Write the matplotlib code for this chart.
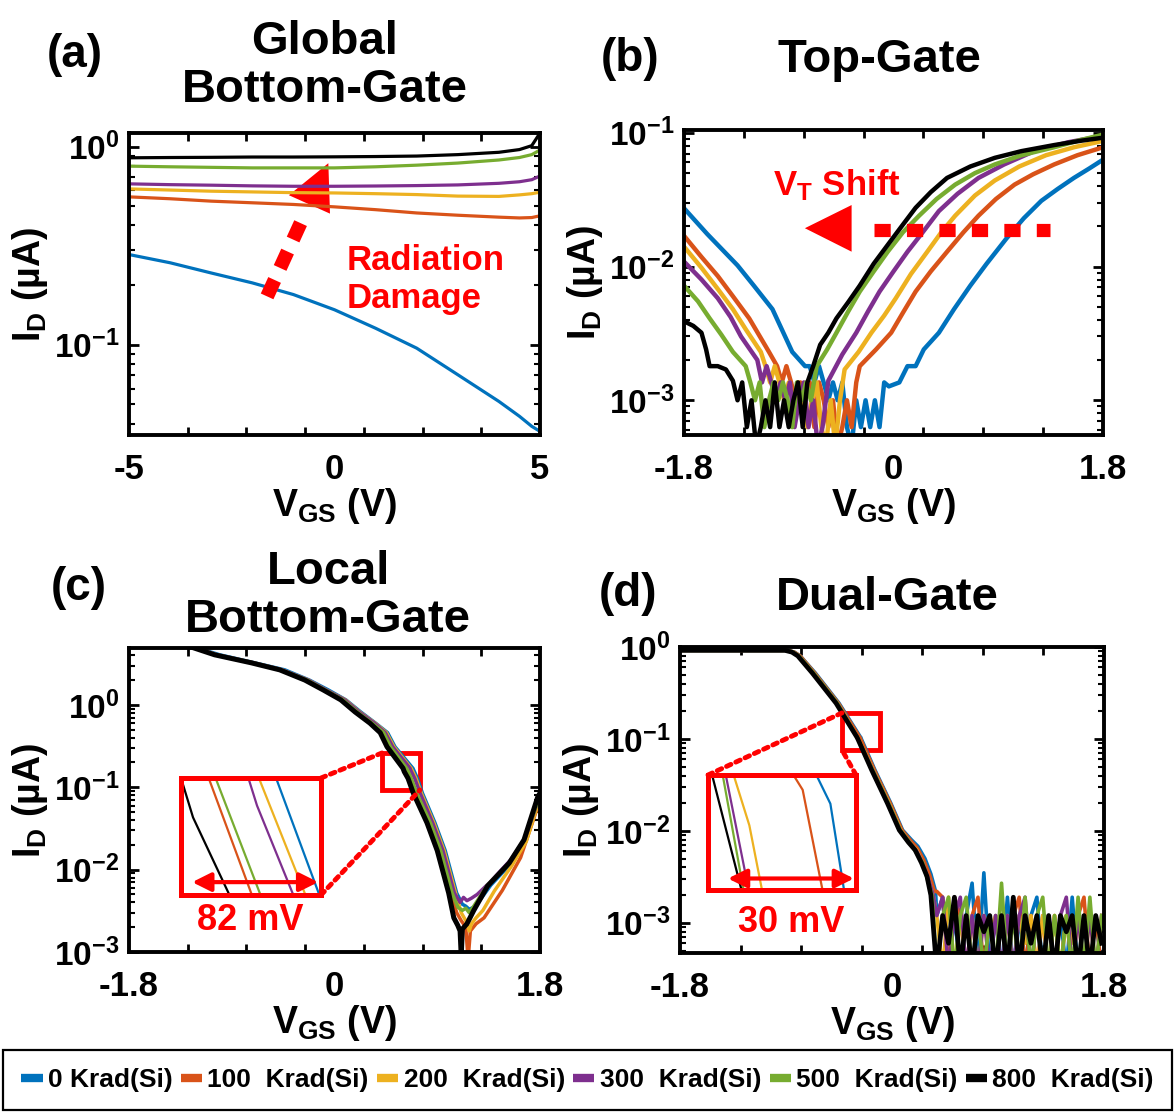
import matplotlib.pyplot as plt
import numpy as np
from matplotlib.lines import Line2D
from matplotlib.patches import Polygon, Rectangle, ConnectionPatch
from matplotlib.ticker import NullFormatter

plt.rcParams["font.family"] = ["Liberation Sans", "DejaVu Sans"]
plt.rcParams["font.weight"] = "bold"
plt.rcParams["axes.labelweight"] = "bold"
plt.rcParams["axes.unicode_minus"] = False
plt.rcParams["mathtext.default"] = "regular"

# dose labels and MATLAB-style colours
doses = ["0 Krad(Si)", "100  Krad(Si)", "200  Krad(Si)", "300  Krad(Si)", "500  Krad(Si)", "800  Krad(Si)"]
colors = ["#0072BD", "#D95319", "#EDB120", "#7E2F8E", "#77AC30", "#000000"]

# (a) global bottom-gate, ID (uA) vs VGS (V)
a_vgs = [-5, -4, -3, -2, -1, 0, 1, 2, 3, 4, 4.5, 4.8, 5]
a_id = [
    [0.285, 0.259, 0.230, 0.205, 0.179, 0.150, 0.121, 0.096, 0.0705, 0.0517, 0.0435, 0.0387, 0.0365],
    [0.557, 0.545, 0.530, 0.520, 0.510, 0.496, 0.480, 0.462, 0.450, 0.440, 0.436, 0.438, 0.447],
    [0.611, 0.603, 0.595, 0.590, 0.585, 0.583, 0.578, 0.572, 0.562, 0.560, 0.570, 0.578, 0.588],
    [0.648, 0.642, 0.638, 0.633, 0.630, 0.630, 0.632, 0.635, 0.640, 0.652, 0.664, 0.680, 0.710],
    [0.796, 0.790, 0.785, 0.780, 0.780, 0.780, 0.790, 0.805, 0.825, 0.855, 0.880, 0.910, 0.960],
    [0.877, 0.880, 0.882, 0.885, 0.885, 0.887, 0.890, 0.895, 0.910, 0.935, 0.965, 1.010, 1.170],
]

# (b) top-gate
b_vgs = [
    [-1.80, -1.60, -1.34, -1.20, -1.04, -0.87, -0.76, -0.72, -0.68, -0.64, -0.60, -0.56, -0.52, -0.48, -0.44,
     -0.40, -0.36, -0.32, -0.28, -0.24, -0.20, -0.16, -0.12, -0.08, -0.04, 0.05, 0.12, 0.19, 0.26, 0.39, 0.52,
     0.66, 0.80, 0.97, 1.12, 1.27, 1.41, 1.55, 1.68, 1.80],
    [-1.80, -1.65, -1.51, -1.38, -1.24, -1.07, -1.00, -0.96, -0.92, -0.88, -0.84, -0.80, -0.76, -0.72, -0.68,
     -0.64, -0.60, -0.56, -0.52, -0.48, -0.44, -0.40, -0.36, -0.32, -0.29, -0.15, -0.02, 0.08, 0.19, 0.32, 0.46,
     0.60, 0.73, 0.88, 1.04, 1.20, 1.38, 1.58, 1.80],
    [-1.80, -1.65, -1.51, -1.38, -1.27, -1.14, -1.10, -1.06, -1.02, -0.98, -0.94, -0.90, -0.86, -0.82, -0.78,
     -0.74, -0.70, -0.66, -0.62, -0.58, -0.54, -0.50, -0.46, -0.42, -0.30, -0.19, -0.08, 0.02, 0.15, 0.29, 0.41,
     0.53, 0.70, 0.87, 1.08, 1.31, 1.55, 1.80],
    [-1.80, -1.65, -1.51, -1.40, -1.31, -1.17, -1.13, -1.09, -1.05, -1.01, -0.97, -0.93, -0.89, -0.85, -0.81,
     -0.77, -0.73, -0.69, -0.65, -0.61, -0.56, -0.44, -0.32, -0.22, -0.12, 0.00, 0.12, 0.25, 0.39, 0.55, 0.73,
     0.95, 1.21, 1.50, 1.80],
    [-1.80, -1.68, -1.58, -1.48, -1.38, -1.27, -1.23, -1.19, -1.15, -1.11, -1.07, -1.03, -0.99, -0.95, -0.91,
     -0.87, -0.83, -0.79, -0.75, -0.71, -0.66, -0.57, -0.49, -0.39, -0.29, -0.17, -0.05, 0.08, 0.22, 0.37, 0.53,
     0.70, 0.87, 1.10, 1.38, 1.60, 1.80],
    [-1.80, -1.72, -1.65, -1.61, -1.58, -1.51, -1.44, -1.38, -1.34, -1.30, -1.26, -1.22, -1.18, -1.14, -1.10,
     -1.06, -1.02, -0.98, -0.94, -0.90, -0.86, -0.82, -0.78, -0.74, -0.69, -0.63, -0.56, -0.49, -0.39, -0.29,
     -0.17, -0.05, 0.07, 0.19, 0.32, 0.46, 0.66, 0.87, 1.10, 1.38, 1.60, 1.80],
]
b_id = [
    [0.0273, 0.0175, 0.0102, 0.0072, 0.0048, 0.0023, 0.0018, 1.8e-3, 1.36e-3, 1.8e-3, 1.36e-3, 1.0e-3, 1.36e-3,
     1.0e-3, 1.36e-3, 6.3e-4, 4.5e-4, 1.0e-3, 6.3e-4, 1.0e-3, 6.3e-4, 1.0e-3, 6.3e-4, 1.36e-3, 1.27e-3, 1.36e-3,
     1.8e-3, 1.8e-3, 2.4e-3, 3.2e-3, 4.8e-3, 7.2e-3, 0.0105, 0.0162, 0.023, 0.031, 0.038, 0.046, 0.054, 0.063],
    [0.017, 0.0118, 0.0085, 0.0060, 0.0041, 0.0023, 1.8e-3, 1.36e-3, 1.8e-3, 1.36e-3, 1.0e-3, 1.36e-3, 1.0e-3,
     1.36e-3, 6.3e-4, 1.36e-3, 1.0e-3, 6.3e-4, 1.0e-3, 4.5e-4, 6.3e-4, 1.0e-3, 6.3e-4, 1.36e-3, 1.8e-3, 2.4e-3,
     3.2e-3, 4.5e-3, 6.5e-3, 9.2e-3, 0.0129, 0.018, 0.024, 0.032, 0.041, 0.049, 0.058, 0.068, 0.078],
    [0.0141, 0.0098, 0.0068, 0.0048, 0.0034, 0.0023, 1.8e-3, 1.36e-3, 1.8e-3, 1.36e-3, 1.0e-3, 1.36e-3, 1.0e-3,
     1.36e-3, 1.0e-3, 6.3e-4, 1.0e-3, 1.36e-3, 6.3e-4, 4.5e-4, 1.0e-3, 4.5e-4, 1.0e-3, 1.7e-3, 2.3e-3, 3.2e-3,
     4.3e-3, 5.8e-3, 8.8e-3, 0.0129, 0.018, 0.024, 0.034, 0.044, 0.056, 0.068, 0.078, 0.087],
    [0.0109, 0.0080, 0.0058, 0.0042, 0.0030, 0.0020, 1.36e-3, 1.8e-3, 1.36e-3, 1.0e-3, 1.36e-3, 1.0e-3, 1.36e-3,
     6.3e-4, 1.0e-3, 1.36e-3, 6.3e-4, 1.0e-3, 4.5e-4, 6.3e-4, 1.4e-3, 2.2e-3, 3.2e-3, 4.6e-3, 6.5e-3, 9.2e-3,
     0.0129, 0.018, 0.026, 0.035, 0.046, 0.058, 0.073, 0.085, 0.095],
    [0.0072, 0.0055, 0.0041, 0.0031, 0.0023, 0.0018, 1.36e-3, 1.0e-3, 1.36e-3, 6.3e-4, 1.0e-3, 1.36e-3, 1.0e-3,
     1.36e-3, 1.0e-3, 6.3e-4, 1.36e-3, 1.0e-3, 1.36e-3, 1.0e-3, 1.8e-3, 2.4e-3, 3.2e-3, 4.6e-3, 6.5e-3, 9.2e-3,
     0.0129, 0.018, 0.024, 0.032, 0.041, 0.050, 0.058, 0.068, 0.078, 0.088, 0.097],
    [0.0039, 0.0036, 0.0032, 0.0024, 0.0018, 0.0018, 0.0017, 0.0014, 1.0e-3, 1.36e-3, 6.3e-4, 1.0e-3, 4.5e-4,
     6.3e-4, 1.0e-3, 6.3e-4, 1.36e-3, 6.3e-4, 1.0e-3, 6.3e-4, 1.0e-3, 1.36e-3, 6.3e-4, 1.36e-3, 1.8e-3, 2.6e-3,
     3.2e-3, 4.1e-3, 5.4e-3, 7.2e-3, 0.0105, 0.0145, 0.020, 0.0275, 0.036, 0.046, 0.056, 0.065, 0.073, 0.081,
     0.087, 0.092],
]

# (c) local bottom-gate
c_vgs = [
    [-1.8, -1.20, -1.005, -0.70, -0.435, -0.22, -0.055, 0.10, 0.23, 0.36, 0.465, 0.53, 0.6869, 0.7265, 0.77,
     0.88, 0.97, 1.07, 1.12, 1.15, 1.18, 1.22, 1.26, 1.37, 1.55, 1.68, 1.8],
    [-1.8, -1.22, -1.04, -0.72, -0.47, -0.245, -0.085, 0.07, 0.195, 0.325, 0.42, 0.48, 0.6253, 0.6648, 0.71,
     0.83, 0.92, 1.02, 1.07, 1.11, 1.15, 1.17, 1.19, 1.24, 1.31, 1.47, 1.63, 1.8],
    [-1.8, -1.21, -1.03, -0.71, -0.46, -0.23, -0.075, 0.095, 0.22, 0.355, 0.455, 0.52, 0.6712, 0.7138, 0.76,
     0.87, 0.96, 1.06, 1.11, 1.15, 1.18, 1.20, 1.24, 1.30, 1.40, 1.55, 1.68, 1.8],
    [-1.8, -1.21, -1.03, -0.71, -0.46, -0.23, -0.075, 0.09, 0.215, 0.35, 0.445, 0.51, 0.6616, 0.6695, 0.7027,
     0.75, 0.86, 0.95, 1.05, 1.10, 1.13, 1.16, 1.20, 1.25, 1.36, 1.54, 1.67, 1.8],
    [-1.8, -1.22, -1.04, -0.72, -0.47, -0.24, -0.085, 0.075, 0.20, 0.33, 0.43, 0.49, 0.6316, 0.6727, 0.72,
     0.84, 0.93, 1.03, 1.08, 1.12, 1.15, 1.18, 1.22, 1.34, 1.53, 1.66, 1.8],
    [-1.8, -1.23, -1.05, -0.73, -0.48, -0.26, -0.10, 0.055, 0.18, 0.31, 0.40, 0.46, 0.600, 0.611, 0.6443, 0.69,
     0.81, 0.90, 1.00, 1.045, 1.08, 1.10, 1.11, 1.12, 1.16, 1.22, 1.34, 1.53, 1.66, 1.78, 1.8],
]
c_id = [
    [9.0, 4.9, 4.05, 3.24, 2.66, 2.0, 1.52, 1.15, 0.82, 0.60, 0.46, 0.31, 0.170, 0.128, 0.085, 0.037, 0.017,
     0.0052, 0.0038, 0.0036, 0.0033, 0.0035, 0.0040, 0.0065, 0.012, 0.023, 0.08],
    [9.0, 4.9, 4.05, 3.24, 2.66, 2.0, 1.52, 1.15, 0.82, 0.60, 0.46, 0.31, 0.170, 0.128, 0.085, 0.037, 0.017,
     0.0052, 0.0030, 0.0024, 0.0020, 0.0008, 0.0018, 0.0022, 0.0026, 0.0056, 0.014, 0.07],
    [9.0, 4.9, 4.05, 3.24, 2.66, 2.0, 1.52, 1.15, 0.82, 0.60, 0.46, 0.31, 0.170, 0.128, 0.085, 0.037, 0.017,
     0.0052, 0.0030, 0.0024, 0.0018, 0.0022, 0.0026, 0.0032, 0.0055, 0.011, 0.022, 0.075],
    [9.0, 4.9, 4.05, 3.24, 2.66, 2.0, 1.52, 1.15, 0.82, 0.60, 0.46, 0.31, 0.170, 0.159, 0.128, 0.085, 0.037,
     0.017, 0.0052, 0.0040, 0.0046, 0.0042, 0.0045, 0.0050, 0.0070, 0.013, 0.024, 0.08],
    [9.0, 4.9, 4.05, 3.24, 2.66, 2.0, 1.52, 1.15, 0.82, 0.60, 0.46, 0.31, 0.170, 0.128, 0.085, 0.037, 0.017,
     0.0052, 0.0035, 0.0032, 0.0034, 0.0030, 0.0036, 0.0065, 0.012, 0.023, 0.08],
    [9.0, 4.9, 4.05, 3.24, 2.66, 2.0, 1.52, 1.15, 0.82, 0.60, 0.46, 0.31, 0.170, 0.1545, 0.128, 0.085, 0.037,
     0.017, 0.0052, 0.0026, 0.0021, 0.0018, 0.0009, 0.0019, 0.0022, 0.0032, 0.0063, 0.012, 0.023, 0.076, 0.085],
]

# (d) dual-gate: on-branch plus noise floor
d_vgs = [
    [-1.8, -0.89, -0.83, -0.78, -0.65, -0.45, -0.2683, -0.2642, -0.2602, -0.145, -0.01, 0.09, 0.165, 0.22, 0.28, 0.33, 0.37],
    [-1.8, -0.89, -0.83, -0.78, -0.655, -0.455, -0.2750, -0.2723, -0.2665, -0.15, -0.015, 0.085, 0.16, 0.215, 0.27, 0.32, 0.36],
    [-1.8, -0.90, -0.84, -0.79, -0.663, -0.462, -0.2925, -0.2879, -0.2842, -0.16, -0.025, 0.075, 0.15, 0.21, 0.26, 0.31, 0.35],
    [-1.8, -0.90, -0.84, -0.79, -0.665, -0.464, -0.2948, -0.2881, -0.163, -0.03, 0.07, 0.15, 0.21, 0.26, 0.31, 0.35],
    [-1.8, -0.90, -0.84, -0.79, -0.665, -0.465, -0.2957, -0.2896, -0.165, -0.03, 0.07, 0.15, 0.20, 0.26, 0.30, 0.34],
    [-1.8, -0.91, -0.85, -0.80, -0.676, -0.475, -0.2988, -0.2902, -0.173, -0.039, 0.062, 0.14, 0.196, 0.25, 0.297, 0.33],
]
d_id = [
    [0.92, 0.92, 0.88, 0.80, 0.52, 0.245, 0.105, 0.10373, 0.100, 0.046, 0.020, 0.0102, 0.0080, 0.0068, 0.0050, 0.0034, 0.0022],
    [0.92, 0.92, 0.88, 0.80, 0.52, 0.245, 0.105, 0.10434, 0.100, 0.046, 0.020, 0.0102, 0.0078, 0.0065, 0.0048, 0.0033, 0.0022],
    [0.92, 0.92, 0.88, 0.80, 0.52, 0.245, 0.105, 0.10278, 0.100, 0.046, 0.020, 0.0102, 0.0075, 0.0062, 0.0045, 0.0030, 0.0020],
    [0.92, 0.92, 0.88, 0.80, 0.52, 0.245, 0.105, 0.100, 0.046, 0.020, 0.0102, 0.0075, 0.0060, 0.0045, 0.0030, 0.0020],
    [0.92, 0.92, 0.88, 0.80, 0.52, 0.245, 0.105, 0.100, 0.046, 0.020, 0.0102, 0.0075, 0.0060, 0.0045, 0.0030, 0.0020],
    [0.92, 0.92, 0.88, 0.80, 0.52, 0.245, 0.105, 0.100, 0.046, 0.020, 0.0102, 0.0075, 0.0062, 0.0045, 0.0032, 0.0020],
]
d_noise_vgs = [0.38, 0.43, 0.48, 0.53, 0.58, 0.63, 0.68, 0.73, 0.78, 0.83, 0.88, 0.93, 0.98, 1.03, 1.08,
               1.13, 1.18, 1.23, 1.28, 1.33, 1.38, 1.43, 1.48, 1.53, 1.58, 1.63, 1.68, 1.73, 1.78]
d_noise_id = [
    [1.2e-3, 1.9e-3, 3e-4, 1.2e-3, 3e-4, 1.2e-3, 2.7e-3, 3e-4, 3.5e-3, 3e-4, 1.2e-3, 3e-4, 1.9e-3, 3e-4, 1.2e-3,
     3e-4, 1.2e-3, 1.9e-3, 3e-4, 1.2e-3, 3e-4, 1.2e-3, 3e-4, 1.9e-3, 3e-4, 1.2e-3, 3e-4, 1.2e-3, 3e-4],
    [2.2e-3, 1.9e-3, 3e-4, 1.9e-3, 1.2e-3, 3e-4, 1.2e-3, 1.9e-3, 3e-4, 1.2e-3, 3e-4, 1.2e-3, 3e-4, 1.2e-3, 1.9e-3,
     3e-4, 1.2e-3, 3e-4, 1.2e-3, 3e-4, 1.2e-3, 3e-4, 1.2e-3, 3e-4, 1.2e-3, 1.9e-3, 3e-4, 1.2e-3, 3e-4],
    [1.2e-3, 3e-4, 1.9e-3, 3e-4, 1.2e-3, 3e-4, 1.2e-3, 3e-4, 1.2e-3, 8e-4, 1.2e-3, 3e-4, 1.2e-3, 3e-4, 1.2e-3,
     6e-4, 1.2e-3, 3e-4, 1.2e-3, 3e-4, 1.2e-3, 3e-4, 1.2e-3, 6e-4, 1.2e-3, 3e-4, 1.2e-3, 3e-4, 1.2e-3],
    [1.2e-3, 1.9e-3, 3e-4, 1.2e-3, 1.9e-3, 3e-4, 1.2e-3, 3e-4, 1.2e-3, 3e-4, 1.2e-3, 3e-4, 1.2e-3, 3e-4, 1.2e-3,
     1.9e-3, 3e-4, 1.2e-3, 3e-4, 1.2e-3, 3e-4, 1.2e-3, 1.9e-3, 3e-4, 1.2e-3, 3e-4, 1.2e-3, 3e-4, 1.2e-3],
    [3e-4, 1.2e-3, 1.9e-3, 3e-4, 1.2e-3, 1.9e-3, 3e-4, 1.2e-3, 3e-4, 1.2e-3, 3e-4, 2.7e-3, 3e-4, 1.2e-3, 3e-4,
     1.9e-3, 3e-4, 1.2e-3, 1.9e-3, 3e-4, 1.2e-3, 3e-4, 1.2e-3, 3e-4, 1.9e-3, 3e-4, 1.9e-3, 3e-4, 1.2e-3],
    [3e-4, 1.2e-3, 6e-4, 1.9e-3, 3e-4, 1.2e-3, 3e-4, 1.2e-3, 8e-4, 1.2e-3, 3e-4, 1.2e-3, 3e-4, 1.9e-3, 3e-4,
     1.2e-3, 6e-4, 1.2e-3, 3e-4, 1.2e-3, 3e-4, 1.2e-3, 8e-4, 1.2e-3, 3e-4, 1.2e-3, 3e-4, 1.2e-3, 6e-4],
]

W, H = 1176, 1113
RED = "#FF0000"


def px_rect(x0, y0, x1, y1):
    # figure rectangle from pixel corners (origin top-left)
    return [x0 / W, 1 - y1 / H, (x1 - x0) / W, (y1 - y0) / H]


def style_axes(ax, xlim, xlabels, ylim):
    ax.set_yscale("log")
    ax.set_xlim(xlim)
    ax.set_ylim(ylim)
    ax.set_xticks(xlabels)
    ax.set_xticklabels([f"{v:g}" for v in xlabels])
    ax.set_xticks(np.linspace(xlim[0], xlim[1], 8)[1:-1], minor=True)
    ax.yaxis.set_minor_formatter(NullFormatter())
    ax.tick_params(which="both", direction="in", top=True, right=True)
    ax.tick_params(axis="x", which="major", length=0, pad=13, labelsize=25)
    ax.tick_params(axis="x", which="minor", length=6, width=2)
    ax.tick_params(axis="y", which="major", length=7, width=2, pad=7, labelsize=24)
    ax.tick_params(axis="y", which="minor", length=4, width=1.5)
    for s in ax.spines.values():
        s.set_linewidth(2.8)
    ax.set_xlabel("V$_{GS}$ (V)", fontsize=27, labelpad=0)
    ax.set_ylabel("I$_D$ (µA)", fontsize=27, labelpad=3)


fig = plt.figure(figsize=(W / 100, H / 100), dpi=100)

ax_a = fig.add_axes(px_rect(129, 133, 540, 435))
ax_b = fig.add_axes(px_rect(684, 130, 1103, 435))
ax_c = fig.add_axes(px_rect(129, 648, 540, 952))
ax_d = fig.add_axes(px_rect(680, 647, 1104, 953))

# (a)
for ids, col in zip(a_id, colors):
    ax_a.plot(a_vgs, ids, color=col, lw=2.3)
style_axes(ax_a, (-5, 5), [-5, 0, 5], (0.035, 1.17))
ax_a.plot([0.336, 0.420], [0.459, 0.709], transform=ax_a.transAxes, color=RED, lw=10,
          dashes=(1.3, 0.95), dash_capstyle="butt")
ax_a.add_patch(Polygon([(0.485, 0.900), (0.389, 0.794), (0.489, 0.733)], closed=True,
                       transform=ax_a.transAxes, color=RED, lw=0))
# multi-line text: baseline anchors the last line
ax_a.text(0.529, 0.4205, "Radiation\nDamage", transform=ax_a.transAxes, color=RED,
          fontsize=25, va="baseline", ha="left", linespacing=1.2)
ax_a.text(0.476, 1.103, "Global\nBottom-Gate", transform=ax_a.transAxes, fontsize=34,
          ha="center", va="baseline", linespacing=1.1)

# (b)
for vgs, ids, col in zip(b_vgs, b_id, colors):
    ax_b.plot(vgs, ids, color=col, lw=3.2)
style_axes(ax_b, (-1.8, 1.8), [-1.8, 0, 1.8], (5.5e-4, 0.105))
ax_b.plot([0.4535, 0.8728], [0.672, 0.672], transform=ax_b.transAxes, color=RED, lw=9.5,
          dashes=(1.23, 1.23), dash_capstyle="butt")
ax_b.add_patch(Polygon([(0.2885, 0.678), (0.400, 0.754), (0.400, 0.601)], closed=True,
                       transform=ax_b.transAxes, color=RED, lw=0))
ax_b.text(0.2125, 0.787, "V$_T$ Shift", transform=ax_b.transAxes, color=RED, fontsize=25,
          va="baseline", ha="left")
ax_b.text(0.466, 1.19, "Top-Gate", transform=ax_b.transAxes, fontsize=34, ha="center", va="baseline")

# (c)
lw_c = [2.5, 2.5, 2.5, 2.5, 2.5, 3.6]
for vgs, ids, col, lw in zip(c_vgs, c_id, colors, lw_c):
    ax_c.plot(vgs, ids, color=col, lw=lw)
style_axes(ax_c, (-1.8, 1.8), [-1.8, 0, 1.8], (1e-3, 4.9))
ax_c.text(0.485, 1.053, "Local\nBottom-Gate", transform=ax_c.transAxes, fontsize=34,
          ha="center", va="baseline", linespacing=1.1)
ax_c.add_patch(Rectangle((0.416, 0.0927), 0.333, 0.168, fill=False, ec=RED, lw=3.5))

ins_c = fig.add_axes(px_rect(181, 778, 321, 895))
for vgs, ids, col in zip(c_vgs, c_id, colors):
    ins_c.plot(vgs, ids, color=col, lw=1.6)
ins_c.set_yscale("log")
ins_c.set_xlim(0.600, 0.728)
ins_c.set_ylim(0.128, 0.170)

# (d)
lw_d = [2.6, 2.6, 2.6, 2.6, 2.6, 3.4]
for vgs, ids, nid, col, lw in zip(d_vgs, d_id, d_noise_id, colors, lw_d):
    ax_d.plot(list(vgs) + d_noise_vgs, list(ids) + nid, color=col, lw=lw)
style_axes(ax_d, (-1.8, 1.8), [-1.8, 0, 1.8], (4.7e-4, 1.0))
ax_d.text(0.49, 1.121, "Dual-Gate", transform=ax_d.transAxes, fontsize=34, ha="center", va="baseline")
ax_d.add_patch(Rectangle((-0.4245, 0.0759), 0.3225, 0.1161, fill=False, ec=RED, lw=3.5))

ins_d = fig.add_axes(px_rect(708, 775, 856, 890))
for vgs, ids, col in zip(d_vgs, d_id, colors):
    ins_d.plot(vgs, ids, color=col, lw=1.6)
ins_d.set_yscale("log")
ins_d.set_xlim(-0.300, -0.2567)
ins_d.set_ylim(0.100, 0.105)

for ins in (ins_c, ins_d):
    ins.set_xticks([])
    ins.set_yticks([])
    ins.minorticks_off()
    for s in ins.spines.values():
        s.set_color(RED)
        s.set_linewidth(3.6)

ins_c.annotate("", xy=(0.98, 0.11), xytext=(0.08, 0.11), xycoords="axes fraction",
               arrowprops=dict(arrowstyle="<|-|>", color=RED, lw=3, mutation_scale=28, shrinkA=0, shrinkB=0))
ins_d.annotate("", xy=(0.986, 0.10), xytext=(0.135, 0.10), xycoords="axes fraction",
               arrowprops=dict(arrowstyle="<|-|>", color=RED, lw=3, mutation_scale=28, shrinkA=0, shrinkB=0))

# dotted zoom connectors
links = [
    (ins_c, (1, 1), ax_c, (0.416, 0.2607)),
    (ins_c, (1, 0), ax_c, (0.749, 0.0927)),
    (ins_d, (0, 1), ax_d, (-0.4245, 0.192)),
    (ins_d, (1, 1), ax_d, (-0.4245, 0.0759)),
]
for ins, pa, ax, pb in links:
    con = ConnectionPatch(xyA=pa, coordsA=ins.transAxes, xyB=pb, coordsB=ax.transData,
                          color=RED, lw=3.5, linestyle=(0, (1, 1.1)))
    fig.add_artist(con)

fig.text(250 / W, 1 - 920 / H, "82 mV", color=RED, fontsize=26, ha="center", va="center")
fig.text(791 / W, 1 - 923 / H, "30 mV", color=RED, fontsize=26, ha="center", va="center")

# panel letters
for lab, x, y in [("(a)", 75, 55), ("(b)", 630, 59), ("(c)", 79, 588), ("(d)", 628, 594)]:
    fig.text(x / W, 1 - y / H, lab, fontsize=33, ha="center", va="center")

# legend across the bottom
handles = [Line2D([], [], color=c, lw=6, solid_capstyle="butt") for c in colors]
leg = fig.legend(handles, doses, loc="center", bbox_to_anchor=(3 / W, 3 / H, 1169 / W, 60 / H),
                 mode="expand", ncol=6, fancybox=False, edgecolor="black", framealpha=1,
                 prop={"size": 19, "weight": "bold"}, handlelength=0.8, handletextpad=0.2,
                 borderaxespad=0, borderpad=0.7, columnspacing=0.5)
leg.get_frame().set_linewidth(1.6)

fig.savefig("out.png", dpi=100, facecolor="white")
